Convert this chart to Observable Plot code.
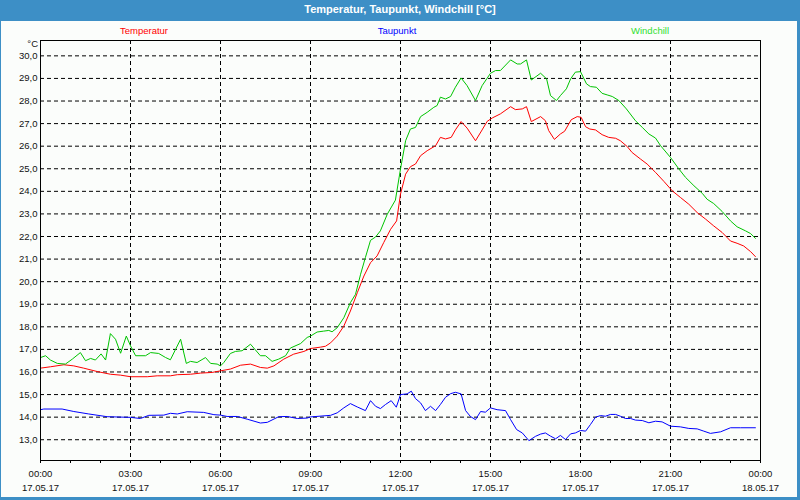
<!DOCTYPE html>
<html>
<head>
<meta charset="utf-8">
<script src="https://cdn.jsdelivr.net/npm/d3@7"></script>
<script src="https://cdn.jsdelivr.net/npm/@observablehq/plot@0.6"></script>
<style>
  html, body { margin: 0; padding: 0; background: #fff; }
  #win { position: relative; width: 800px; height: 500px; background: #fbfdfb; overflow: hidden;
         font-family: "Liberation Sans", Arial, sans-serif; }
  #titlebar { position: absolute; left: 0; top: 0; width: 800px; height: 21px; background: #3d8fc6;
              color: #fff; font-size: 11px; font-weight: bold; line-height: 19px; text-align: center; }
  .bd { position: absolute; background: #3d8fc6; }
  .leg { position: absolute; top: 25px; font-size: 9.5px; line-height: 12px; transform: translateX(-50%); white-space: nowrap; }
  #unit { position: absolute; right: 762px; top: 38px; font-size: 9.5px; line-height: 12px; color: #111; }
  #chart { position: absolute; left: 0; top: 36px; }
</style>
</head>
<body>
<div id="win">
  <div id="titlebar">Temperatur, Taupunkt, Windchill [°C]</div>
  <div class="bd" style="left:0;top:0;width:1px;height:500px"></div>
  <div class="bd" style="left:797px;top:0;width:3px;height:500px"></div>
  <div class="bd" style="left:0;top:497px;width:800px;height:3px"></div>
  <div id="legend"></div>
  <div id="unit">°C</div>
  <div id="chart"></div>
</div>
<script>
// ---- data (hours since 17.05.17 00:00, values in °C) ----
const windHours = [0.00,0.17,0.33,0.56,0.83,1.06,1.33,1.50,1.67,1.83,
  2.02,2.17,2.33,2.50,2.67,2.86,3.00,3.17,3.50,3.67,
  3.94,4.17,4.33,4.67,4.86,5.00,5.22,5.50,5.67,5.89,
  6.00,6.11,6.33,6.50,6.72,7.00,7.33,7.50,7.72,7.94,
  8.17,8.33,8.67,8.89,9.00,9.22,9.44,9.61,9.72,9.89,
  10.11,10.33,10.50,10.67,10.83,11.00,11.17,11.33,11.56,11.83,
  12.00,12.17,12.33,12.50,12.67,12.89,13.11,13.22,13.33,13.50,
  13.67,13.83,14.02,14.22,14.50,14.72,15.00,15.17,15.33,15.67,
  15.89,16.00,16.20,16.36,16.67,16.87,17.00,17.20,17.33,17.53,
  17.67,17.83,18.00,18.20,18.33,18.53,18.72,18.89,19.06,19.28,
  19.53,19.83,20.06,20.28,20.50,20.67,21.00,21.28,21.50,21.78,
  22.06,22.22,22.44,22.72,23.00,23.22,23.50,23.67,23.83];
const windchill = [16.64,16.72,16.53,16.38,16.35,16.57,16.86,16.50,16.60,16.53,
  16.80,16.53,17.70,17.45,16.83,17.59,17.16,16.72,16.72,16.86,
  16.82,16.64,16.54,17.45,16.38,16.47,16.42,16.64,16.38,16.35,
  16.27,16.42,16.82,16.91,16.94,17.23,16.72,16.72,16.47,16.57,
  16.72,17.06,17.26,17.53,17.59,17.77,17.81,17.84,17.78,17.96,
  18.40,19.07,19.44,20.33,21.07,21.83,21.98,22.25,22.99,23.61,
  24.99,26.24,26.76,26.83,27.31,27.50,27.72,27.80,28.17,28.09,
  28.20,28.61,29.02,28.68,28.02,28.68,29.23,29.35,29.35,29.82,
  29.64,29.64,29.82,28.93,29.23,28.98,28.24,28.02,28.24,28.54,
  28.98,29.28,29.30,28.76,28.64,28.61,28.34,28.27,28.20,28.02,
  27.65,27.13,26.83,26.54,26.36,26.02,25.50,24.99,24.62,24.25,
  23.91,23.65,23.46,23.11,22.69,22.43,22.25,22.13,21.92];

const tempHours = [0.00,0.33,0.78,1.11,1.44,1.89,2.33,2.67,3.00,3.56,
  3.89,4.33,4.56,5.00,5.33,5.72,6.00,6.33,6.67,7.00,
  7.33,7.56,7.78,8.11,8.44,8.78,9.00,9.33,9.50,9.67,
  9.89,10.11,10.33,10.56,10.78,11.00,11.22,11.44,11.67,11.87,
  12.00,12.17,12.33,12.50,12.67,12.89,13.17,13.33,13.50,13.69,
  13.83,14.02,14.22,14.50,14.72,14.89,15.06,15.33,15.67,15.83,
  16.06,16.20,16.36,16.67,16.83,16.94,17.13,17.33,17.47,17.69,
  17.89,18.02,18.17,18.31,18.50,18.72,18.94,19.17,19.33,19.56,
  19.72,20.00,20.22,20.50,20.78,21.06,21.33,21.61,21.89,22.17,
  22.44,22.72,23.00,23.22,23.44,23.67,23.83];
const temperature = [16.17,16.23,16.32,16.27,16.17,16.02,15.90,15.86,15.79,15.79,
  15.83,15.83,15.88,15.90,15.95,15.98,16.05,16.13,16.30,16.35,
  16.20,16.17,16.27,16.57,16.79,16.91,17.04,17.10,17.14,17.29,
  17.59,18.03,18.70,19.51,20.25,20.84,21.14,21.73,22.32,22.69,
  23.88,24.76,25.09,25.21,25.58,25.80,26.02,26.39,26.32,26.39,
  26.72,27.09,26.80,26.24,26.72,27.10,27.25,27.43,27.75,27.62,
  27.65,27.75,27.09,27.31,27.13,26.69,26.30,26.54,26.66,27.17,
  27.31,27.28,26.86,26.76,26.72,26.51,26.39,26.35,26.24,25.98,
  25.72,25.43,25.21,24.84,24.44,24.02,23.73,23.43,23.06,22.77,
  22.47,22.18,21.80,21.70,21.58,21.33,21.11];

const dewHours = [0.00,0.11,0.72,1.11,1.61,2.22,3.00,3.33,3.61,4.11,
  4.33,4.56,4.89,5.44,5.78,6.00,6.22,6.56,6.89,7.33,
  7.56,7.94,8.22,8.56,8.89,9.00,9.67,9.89,10.11,10.33,
  10.56,10.83,11.00,11.17,11.33,11.50,11.69,11.86,12.00,12.22,
  12.36,12.50,12.67,12.83,13.00,13.17,13.33,13.50,13.67,13.83,
  14.02,14.17,14.33,14.50,14.67,14.83,15.00,15.22,15.50,15.67,
  15.87,16.06,16.28,16.50,16.67,16.83,17.00,17.17,17.33,17.50,
  17.67,17.83,18.00,18.17,18.33,18.50,18.67,18.83,19.00,19.17,
  19.33,19.50,19.67,19.83,20.06,20.28,20.50,20.72,21.00,21.33,
  21.61,21.89,22.11,22.33,22.67,23.00,23.33,23.83];
const dewpoint = [14.33,14.36,14.36,14.25,14.14,14.02,13.99,13.94,14.08,14.09,
  14.17,14.14,14.24,14.21,14.11,14.09,14.03,14.03,13.91,13.74,
  13.77,14.02,14.03,13.94,13.96,14.01,14.08,14.19,14.41,14.60,
  14.45,14.29,14.73,14.48,14.38,14.56,14.73,14.44,15.00,15.03,
  15.15,14.82,14.63,14.29,14.48,14.29,14.56,14.88,15.04,15.10,
  15.03,14.29,14.03,13.89,14.25,14.22,14.41,14.33,14.29,13.89,
  13.45,13.30,12.96,13.15,13.25,13.30,13.16,13.04,13.19,13.01,
  13.26,13.30,13.41,13.38,13.67,14.00,14.07,14.04,14.12,14.12,
  14.04,13.94,13.94,13.87,13.85,13.75,13.82,13.79,13.60,13.57,
  13.50,13.48,13.38,13.28,13.35,13.53,13.53,13.53];

const seriesNames = ["Temperatur", "Taupunkt", "Windchill"];
const seriesColors = ["#ff0000", "#0000ff", "#00c400"];
const legendColors = ["#ff0000", "#0000ff", "#2fe02f"];
const legendCenters = [144, 397, 650];

const yTicks = [13,14,15,16,17,18,19,20,21,22,23,24,25,26,27,28,29,30];
const minorHours = [0,1,2,3,4,5,6,7,8,9,10,11,12,13,14,15,16,17,18,19,20,21,22,23,24];
const labelHours = [0,3,6,9,12,15,18,21,24];
const gridHours = [3,6,9,12,15,18,21];
const xTickTimes = ["00:00","03:00","06:00","09:00","12:00","15:00","18:00","21:00","00:00"];
const xTickDates = ["17.05.17","17.05.17","17.05.17","17.05.17","17.05.17","17.05.17","17.05.17","17.05.17","18.05.17"];

// ---- build tables ----
const rows = [];
tempHours.forEach((h, i) => rows.push({h, v: temperature[i], s: seriesNames[0]}));
dewHours.forEach((h, i) => rows.push({h, v: dewpoint[i], s: seriesNames[1]}));
windHours.forEach((h, i) => rows.push({h, v: windchill[i], s: seriesNames[2]}));

// legend
const leg = document.getElementById("legend");
seriesNames.forEach((n, i) => {
  const s = document.createElement("span");
  s.className = "leg";
  s.textContent = n;
  s.style.left = legendCenters[i] + "px";
  s.style.color = legendColors[i];
  leg.appendChild(s);
});

const dash = "4,3";
const chart = Plot.plot({
  width: 800,
  height: 464,
  marginTop: 4,
  marginBottom: 40,
  marginLeft: 40,
  marginRight: 40,
  style: {background: "transparent", fontFamily: "Liberation Sans, Arial, sans-serif", fontSize: "9.5px", color: "#111", overflow: "visible"},
  x: {domain: [0, 24]},
  y: {domain: [12.08, 30.68]},
  color: {domain: seriesNames, range: seriesColors},
  marks: [
    Plot.gridY(yTicks, {stroke: "#000", strokeOpacity: 1, strokeDasharray: dash}),
    Plot.gridX(gridHours, {stroke: "#000", strokeOpacity: 1, strokeDasharray: dash}),
    Plot.line(rows, {x: "h", y: "v", z: "s", stroke: "s", strokeWidth: 1}),
    Plot.frame({stroke: "#000", strokeOpacity: 1}),
    Plot.axisY(yTicks, {tickSize: 0, tickPadding: 3, label: null,
      tickFormat: d => d.toFixed(1).replace(".", ",")}),
    Plot.axisX(minorHours, {tickSize: 3, label: null, tickFormat: () => "", stroke: "#000"}),
    Plot.axisX(labelHours, {tickSize: 0, tickPadding: 7, label: null, lineHeight: 1.45,
      tickFormat: d => { const i = labelHours.indexOf(d); return xTickTimes[i] + "\n" + xTickDates[i]; }})
  ]
});
document.getElementById("chart").appendChild(chart);
</script>
</body>
</html>
